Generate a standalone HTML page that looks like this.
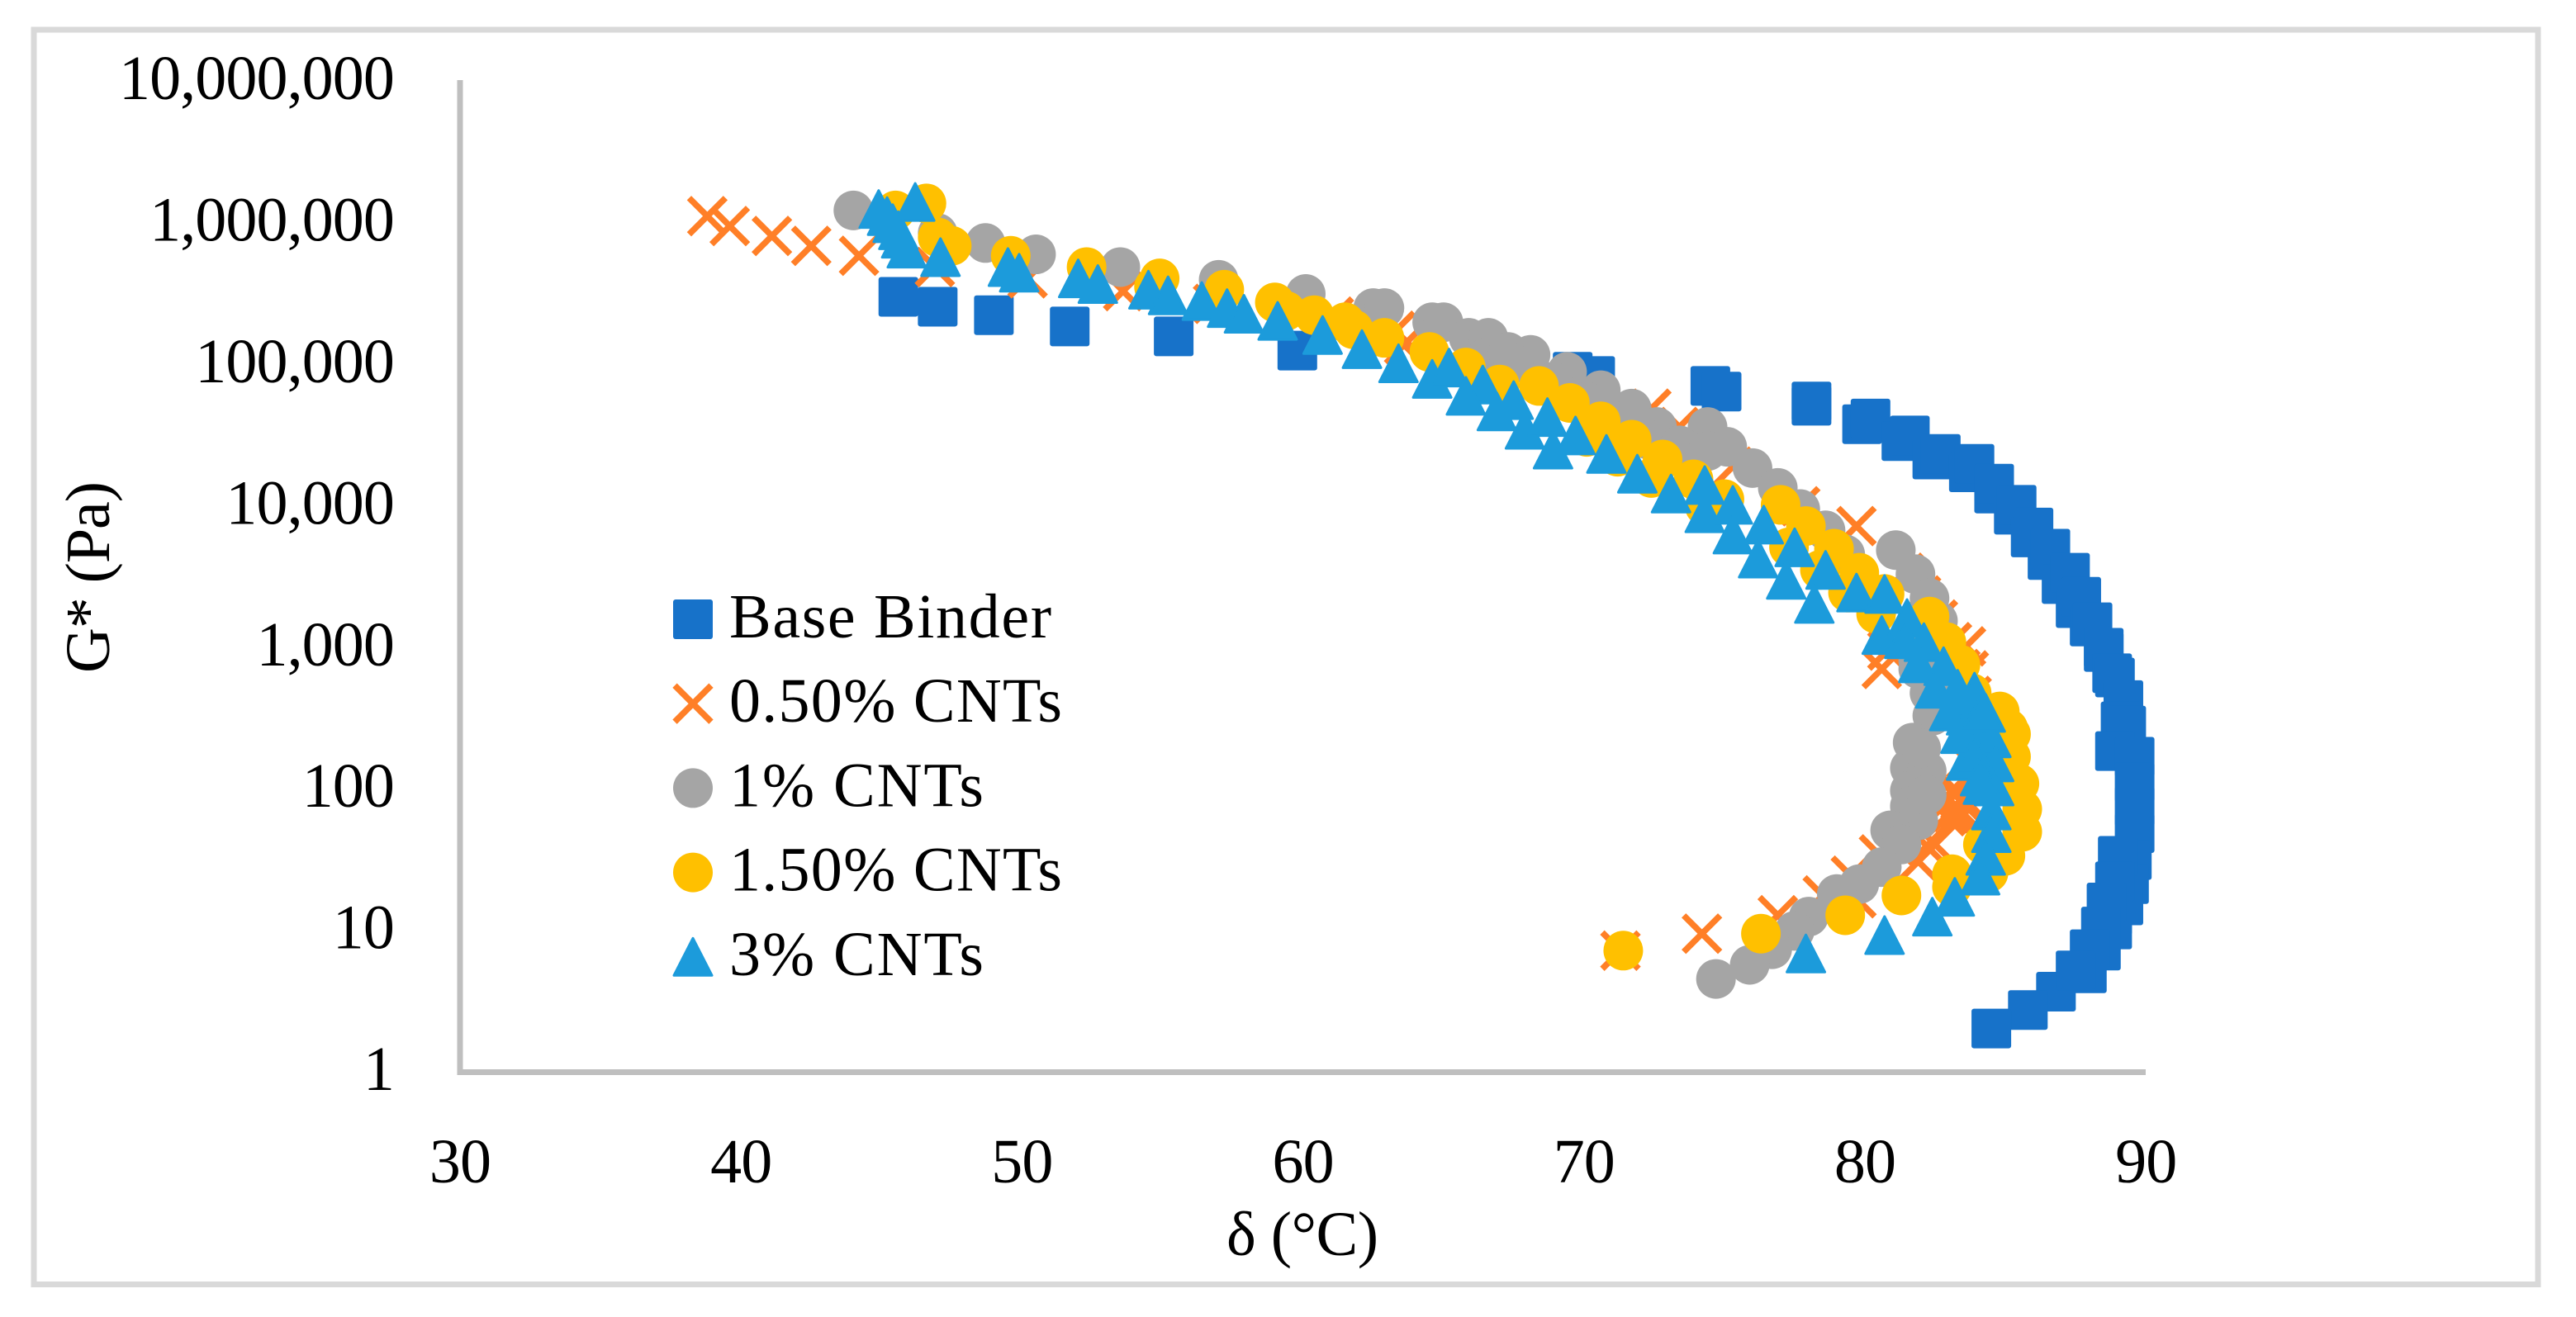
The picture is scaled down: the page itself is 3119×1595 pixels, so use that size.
<!DOCTYPE html>
<html lang="en">
<head>
<meta charset="utf-8">
<title>G* vs phase angle chart</title>
<style>
html,body{margin:0;padding:0;background:#fff;width:3119px;height:1595px;overflow:hidden}
svg{display:block}
text{font-family:"Liberation Serif",serif;fill:#000}
</style>
</head>
<body>
<svg id="chart" xmlns="http://www.w3.org/2000/svg" width="3119" height="1595" viewBox="0 0 3119 1595">
<rect x="41" y="36" width="3032" height="1519.5" fill="#fff" stroke="#d9d9d9" stroke-width="7"/>
<g id="axes"></g>
<g id="series"></g>
<text transform="translate(132,699) rotate(-90)" text-anchor="middle" font-size="76" textLength="232">G* (Pa)</text>
<text x="1577" y="1520" text-anchor="middle" font-size="76" textLength="184">δ (°C)</text>
<g id="legend"></g>
</svg>
<script>
const xTickLabels = ["30","40","50","60","70","80","90"];
const xTickValues = [30,40,50,60,70,80,90];
const yTickLabels = ["1","10","100","1,000","10,000","100,000","1,000,000","10,000,000"];
const yTickValues = [0,1,2,3,4,5,6,7];

const seriesNames = ["Base Binder","0.50% CNTs","1% CNTs","1.50% CNTs","3% CNTs"];

const baseDelta = [45.6,47.0,49.0,51.7,55.4,59.8,69.6,70.4,74.5,74.9,78.1,78.1,79.9,80.2,81.3,81.6,82.4,82.7,83.7,83.9,84.6,84.6,85.3,85.4,85.9,86.0,86.5,86.6,87.0,87.3,87.5,87.7,88.0,88.1,88.5,88.5,88.8,88.9,89.2,89.1,89.3,88.9,89.6,89.6,89.6,89.6,89.5,89.4,89.2,89.0,88.9,88.8,88.8,88.6,88.4,88.4,87.9,86.8,85.8,84.5,88.0,87.5];
const baseLogG = [5.47,5.40,5.34,5.26,5.19,5.09,4.94,4.91,4.84,4.80,4.73,4.70,4.57,4.61,4.45,4.49,4.32,4.36,4.23,4.29,4.08,4.15,3.93,4.00,3.77,3.84,3.61,3.69,3.44,3.52,3.27,3.35,3.14,3.17,2.96,2.99,2.81,2.78,2.62,2.47,2.44,2.26,2.22,2.04,1.87,1.68,1.49,1.32,1.17,1.52,1.34,1.00,1.10,1.19,1.02,0.85,0.69,0.56,0.43,0.30,0.86,0.71];

const cntHalfDelta = [38.8,39.6,41.1,42.5,44.2,46.9,50.2,53.6,56.8,59.9,61.1,63.3,63.6,72.4,73.4,75.3,77.7,79.7,81.4,82.0,82.6,83.1,83.6,83.7,83.4,80.6,80.8,83.8,83.8,83.6,83.1,83.3,83.4,83.3,83.1,83.0,83.5,83.2,82.9,83.4,82.5,82.2,81.9,80.5,79.5,79.7,78.5,76.9,74.2,71.3];
const cntHalfLogG = [6.04,5.97,5.90,5.83,5.76,5.68,5.60,5.51,5.42,5.33,5.33,5.23,5.13,4.68,4.55,4.27,3.99,3.85,3.52,3.36,3.19,3.03,3.00,2.83,2.84,2.84,2.97,2.65,2.40,2.20,1.98,1.97,1.91,1.77,1.83,1.91,1.93,1.85,1.80,1.84,1.60,1.59,1.48,1.53,1.38,1.22,1.24,1.10,0.97,0.85];

const cntOneDelta = [44.0,47.0,48.7,50.5,53.5,57.0,60.1,62.5,62.9,64.6,65.0,65.9,66.6,68.1,69.4,70.6,71.7,72.6,74.4,75.1,76.0,76.9,77.7,78.6,79.3,81.1,81.8,82.3,82.6,82.2,81.9,82.3,82.4,81.8,81.7,81.6,81.6,81.6,81.9,80.9,81.3,80.6,79.8,79.0,78.0,77.5,76.7,75.9,74.7,66.5,67.3,67.5,68.9,70.1,71.2,72.3,73.4,74.4,82.2,82.0,82.2,81.9];
const cntOneLogG = [6.08,5.92,5.85,5.77,5.68,5.59,5.49,5.39,5.39,5.29,5.29,5.18,5.18,5.06,4.94,4.81,4.68,4.55,4.55,4.41,4.26,4.12,3.97,3.82,3.65,3.68,3.51,3.34,3.18,3.03,2.84,2.67,2.51,2.30,2.32,2.14,1.98,1.87,1.77,1.70,1.60,1.44,1.32,1.25,1.09,0.99,0.86,0.75,0.65,5.04,5.08,5.00,4.87,4.73,4.59,4.46,4.42,4.38,2.12,2.28,1.95,2.90];

const cntOneHalfDelta = [46.6,45.5,47.0,47.5,49.6,52.3,54.9,54.7,57.2,59.0,59.4,60.4,61.5,61.8,62.9,64.5,65.8,67.0,68.4,69.5,70.6,71.7,72.8,73.9,75.0,77.0,77.9,78.9,79.8,80.7,82.3,82.9,83.4,83.8,84.8,85.2,77.3,78.4,79.4,80.4,70.1,71.2,72.4,74.3,85.1,85.2,85.5,85.6,85.6,85.0,84.4,84.2,83.1,83.1,81.3,79.3,76.3,71.4];
const cntOneHalfLogG = [6.13,6.08,5.89,5.83,5.76,5.68,5.60,5.54,5.52,5.43,5.37,5.34,5.29,5.24,5.18,5.08,4.97,4.85,4.84,4.72,4.59,4.46,4.32,4.18,4.04,4.00,3.85,3.69,3.52,3.37,3.21,3.03,2.87,2.67,2.54,2.38,3.70,3.54,3.38,3.23,4.48,4.34,4.19,3.99,2.42,2.22,2.03,1.85,1.69,1.52,1.40,1.60,1.39,1.30,1.24,1.10,0.97,0.85];

const cntThreeDelta = [44.9,46.2,45.2,45.4,45.6,45.7,45.9,47.1,49.5,49.9,52.0,52.7,54.5,55.2,56.4,57.3,57.9,59.1,60.7,62.1,63.4,64.6,65.2,66.4,67.5,65.8,67.9,66.9,68.7,69.7,68.9,70.8,71.9,73.1,74.3,74.3,75.3,75.3,76.4,76.2,77.5,77.2,78.6,78.2,79.7,80.7,80.6,81.5,81.4,82.1,81.9,82.8,82.5,83.9,83.0,83.6,83.9,84.3,84.5,84.6,84.6,84.5,84.5,84.3,84.1,83.2,82.4,80.7,77.9,83.4,83.6,84.2,83.3,83.8,83.9,84.2,84.1];
const cntThreeLogG = [6.09,6.14,6.04,5.99,5.94,5.88,5.81,5.75,5.68,5.64,5.60,5.56,5.52,5.48,5.44,5.39,5.35,5.30,5.20,5.10,5.00,4.89,4.97,4.85,4.74,4.77,4.53,4.66,4.62,4.49,4.39,4.36,4.22,4.08,4.14,3.94,4.00,3.79,3.86,3.62,3.70,3.47,3.54,3.30,3.38,3.37,3.08,3.20,3.05,3.03,2.88,2.86,2.70,2.68,2.54,2.51,2.45,2.53,2.35,2.18,2.01,1.84,1.68,1.52,1.38,1.23,1.09,0.96,0.83,2.38,2.19,2.02,2.70,2.39,2.24,2.55,2.08];

const NS = 'http://www.w3.org/2000/svg';
const xScale = v => 557 + (v - 30) * 34.02;
const yScale = v => 1297 - v * 171.4;

function make(tag, parent, attrs) {
  const el = document.createElementNS(NS, tag);
  for (const k in attrs) el.setAttribute(k, attrs[k]);
  parent.appendChild(el);
  return el;
}

function drawMarker(parent, kind, cx, cy) {
  let g;
  if (kind === 'square') {
    g = make('rect', parent, {x: cx - 24, y: cy - 24, width: 48, height: 48, rx: 3, fill: '#1772c9'});
  } else if (kind === 'cross') {
    g = make('path', parent, {d: 'M' + (cx - 22) + ' ' + (cy - 22) + 'L' + (cx + 22) + ' ' + (cy + 22) + 'M' + (cx + 22) + ' ' + (cy - 22) + 'L' + (cx - 22) + ' ' + (cy + 22), stroke: '#ff7f27', 'stroke-width': 7.5, fill: 'none'});
  } else if (kind === 'gray') {
    g = make('circle', parent, {cx: cx, cy: cy, r: 24, fill: '#a5a5a5'});
  } else if (kind === 'yellow') {
    g = make('circle', parent, {cx: cx, cy: cy, r: 24, fill: '#ffc000'});
  } else {
    g = make('path', parent, {d: 'M' + cx + ' ' + (cy - 22.5) + 'L' + (cx + 23) + ' ' + (cy + 22.5) + 'L' + (cx - 23) + ' ' + (cy + 22.5) + 'Z', fill: '#1c9bdb', stroke: '#1c9bdb', 'stroke-width': 3, 'stroke-linejoin': 'round'});
  }
  return g;
}

const axes = document.getElementById('axes');

const yAxisLine = make('line', axes, {x1: 557, y1: 97, x2: 557, y2: 1302, stroke: '#bfbfbf', 'stroke-width': 7});



const xAxisLine = make('line', axes, {x1: 554, y1: 1298.5, x2: 2598, y2: 1298.5, stroke: '#bfbfbf', 'stroke-width': 7});



xTickLabels.forEach(function (label, i) {
  const t = make('text', axes, {x: xScale(xTickValues[i]), y: 1432, 'text-anchor': 'middle', 'font-size': 76, 'letter-spacing': '-0.9'});
  t.textContent = label;
  
  
});

yTickLabels.forEach(function (label, i) {
  const t = make('text', axes, {x: 477, y: yScale(yTickValues[i]) + 23, 'text-anchor': 'end', 'font-size': 76, 'letter-spacing': '-0.9'});
  t.textContent = label;
  
  
});

const seriesRoot = document.getElementById('series');

function drawSeries(kind, key, deltas, logs) {
  const group = make('g', seriesRoot, {});
  
  
  deltas.forEach(function (d, i) {
    const m = drawMarker(group, kind, xScale(d), yScale(logs[i]));
    
    
  });
}

drawSeries('square', 'base-binder', baseDelta, baseLogG);
drawSeries('cross', 'cnt-0-50', cntHalfDelta, cntHalfLogG);
drawSeries('gray', 'cnt-1', cntOneDelta, cntOneLogG);
drawSeries('yellow', 'cnt-1-50', cntOneHalfDelta, cntOneHalfLogG);
drawSeries('triangle', 'cnt-3', cntThreeDelta, cntThreeLogG);

const legend = document.getElementById('legend');
const legendKinds = ['square','cross','gray','yellow','triangle'];
const legendWidths = [390,403,308,403,308];

seriesNames.forEach(function (name, i) {
  const cy = 750 + i * 102.2;
  const entry = make('g', legend, {});
  
  
  const m = drawMarker(entry, legendKinds[i], 839, cy);
  
  
  const t = make('text', entry, {x: 883, y: cy + 22, 'font-size': 76, textLength: legendWidths[i]});
  t.textContent = name;
  
  
});
</script>
</body>
</html>
